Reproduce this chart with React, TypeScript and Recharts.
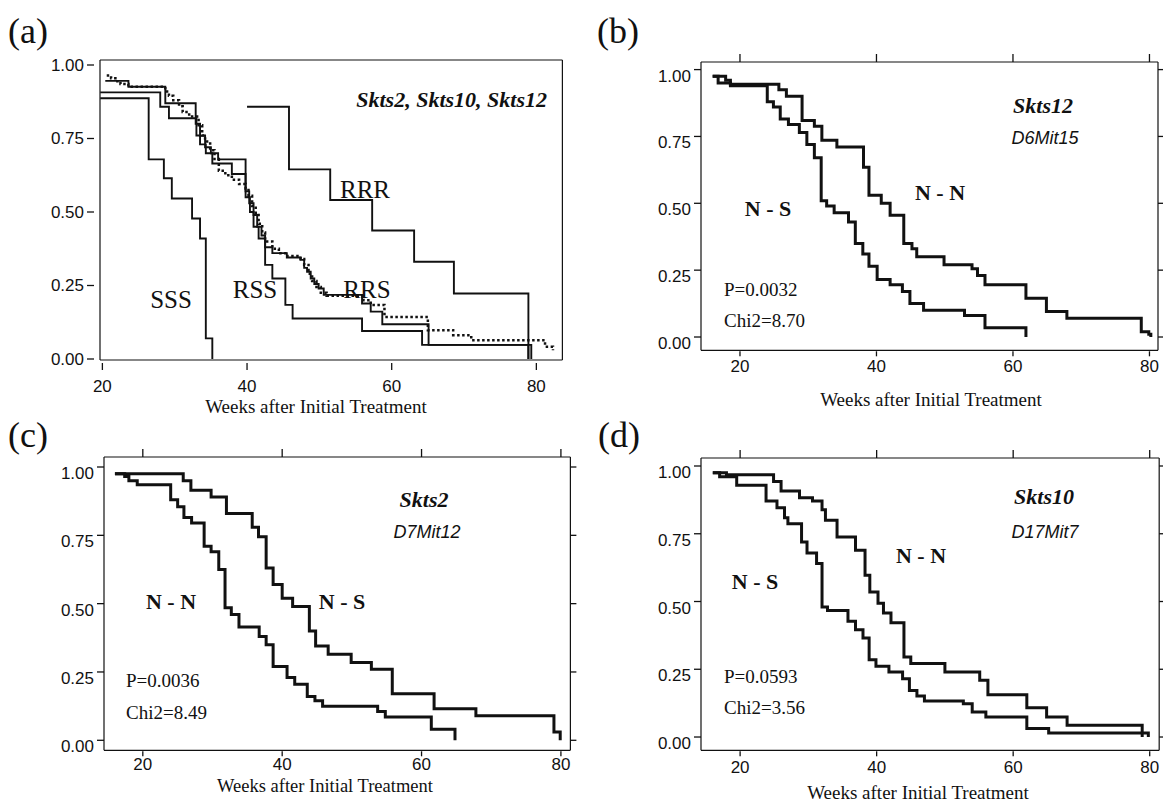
import React from "react";
import { LineChart, Line, XAxis, YAxis } from "recharts";

const weekTicks = [20, 40, 60, 80];
const survTicks = [0, 0.25, 0.5, 0.75, 1];

// (a) Skts2, Skts10, Skts12 genotype combinations
const aSSSWeeks = [19.7, 26.4, 28.5, 29.6, 32.4, 33.5, 34.3, 35.2];
const aSSSSurv = [0.887, 0.679, 0.615, 0.546, 0.478, 0.41, 0.07, 0];
const aRSSWeeks = [19.7, 28.0, 29.2, 33.0, 33.5, 34.3, 35.2, 37.9, 39.8, 40.4, 40.9, 41.6, 42.5, 43.5, 45.3, 46.3, 55.9, 64.2, 79.3];
const aRSSSurv = [0.907, 0.858, 0.819, 0.76, 0.73, 0.7, 0.665, 0.629, 0.55, 0.5, 0.45, 0.41, 0.32, 0.274, 0.184, 0.138, 0.095, 0.048, 0];
const aRRSWeeks = [20.4, 23.6, 28.7, 32.9, 33.5, 34.2, 35.0, 36.0, 39.8, 40.3, 40.9, 41.4, 42.0, 42.5, 43.5, 45.5, 47.4, 47.9, 48.3, 48.8, 49.3, 49.9, 50.6, 55.9, 57.1, 58.7, 65.1, 78.9];
const aRRSSurv = [0.946, 0.926, 0.87, 0.8, 0.76, 0.72, 0.7, 0.679, 0.57, 0.53, 0.49, 0.45, 0.42, 0.38, 0.36, 0.345, 0.337, 0.31, 0.297, 0.274, 0.255, 0.24, 0.218, 0.189, 0.161, 0.118, 0.048, 0];
const aDotWeeks = [20.6, 21.2, 21.8, 22.5, 23.6, 28.7, 29.2, 29.8, 30.6, 31.1, 32.0, 33.3, 33.8, 34.2, 34.9, 35.5, 36.1, 37.0, 37.9, 38.9, 39.8, 40.2, 40.7, 41.2, 41.6, 42.1, 42.5, 43.5, 44.4, 45.3, 47.4, 47.9, 48.5, 49.0, 49.6, 50.2, 51.0, 56.1, 57.1, 59.0, 65.0, 68.5, 71.0, 81.2, 82.3];
const aDotSurv = [0.964, 0.955, 0.945, 0.935, 0.926, 0.91, 0.895, 0.88, 0.86, 0.84, 0.825, 0.795, 0.76, 0.74, 0.71, 0.68, 0.64, 0.625, 0.61, 0.595, 0.58, 0.555, 0.52, 0.49, 0.46, 0.43, 0.4, 0.375, 0.36, 0.35, 0.34, 0.32, 0.29, 0.265, 0.245, 0.225, 0.215, 0.2, 0.184, 0.143, 0.098, 0.081, 0.064, 0.042, 0.03];
const aRRRWeeks = [40.0, 45.8, 51.5, 57.3, 63.1, 68.6, 78.9];
const aRRRSurv = [0.858, 0.645, 0.541, 0.437, 0.331, 0.223, 0];

// (b) Skts12, D6Mit15
const bNNWeeks = [16.0, 17.9, 18.6, 25.7, 26.8, 29.1, 30.9, 32.0, 34.2, 38.1, 38.9, 40.7, 42.0, 44.0, 45.2, 45.9, 49.9, 54.0, 54.8, 55.9, 61.9, 64.9, 67.9, 78.8, 79.9, 80.2];
const bNNSurv = [0.975, 0.96, 0.945, 0.925, 0.9, 0.81, 0.788, 0.736, 0.711, 0.635, 0.53, 0.5, 0.455, 0.35, 0.33, 0.3, 0.27, 0.255, 0.23, 0.195, 0.145, 0.095, 0.07, 0.02, 0.01, 0];
const bNSWeeks = [16.0, 16.8, 18.6, 24.0, 24.9, 25.9, 27.1, 28.7, 29.8, 30.9, 31.9, 32.7, 33.8, 35.9, 36.9, 38.0, 38.9, 40.1, 42.0, 43.8, 44.9, 46.9, 52.9, 55.9, 61.9];
const bNSSurv = [0.975, 0.95, 0.94, 0.88, 0.86, 0.815, 0.795, 0.765, 0.72, 0.67, 0.51, 0.49, 0.465, 0.43, 0.35, 0.31, 0.265, 0.215, 0.195, 0.17, 0.125, 0.1, 0.08, 0.035, 0];

// (c) Skts2, D7Mit12
const cNSWeeks = [16.0, 25.8, 26.9, 29.8, 32.0, 35.7, 36.6, 37.7, 38.7, 40.0, 41.5, 43.9, 44.8, 46.6, 49.9, 52.8, 55.8, 61.8, 67.8, 79.0, 79.9];
const cNSSurv = [0.975, 0.95, 0.915, 0.89, 0.83, 0.78, 0.745, 0.63, 0.57, 0.52, 0.49, 0.4, 0.345, 0.315, 0.285, 0.26, 0.17, 0.115, 0.09, 0.03, 0];
const cNNWeeks = [16.0, 17.4, 18.0, 19.2, 24.0, 25.0, 25.9, 27.0, 28.8, 29.8, 30.9, 31.8, 32.7, 33.8, 36.7, 37.7, 38.7, 40.7, 41.8, 43.6, 44.7, 45.8, 53.7, 54.8, 61.4, 64.8];
const cNNSurv = [0.975, 0.965, 0.95, 0.935, 0.88, 0.855, 0.815, 0.795, 0.71, 0.69, 0.625, 0.485, 0.46, 0.415, 0.38, 0.35, 0.27, 0.23, 0.205, 0.16, 0.145, 0.125, 0.105, 0.085, 0.04, 0];

// (d) Skts10, D17Mit7
const dNNWeeks = [16.0, 18.0, 24.9, 26.0, 28.7, 30.6, 32.0, 32.5, 34.2, 36.9, 38.3, 39.0, 40.2, 41.0, 42.1, 44.0, 45.0, 50.0, 55.1, 56.3, 62.0, 64.9, 67.9, 78.9];
const dNNSurv = [0.975, 0.968, 0.943, 0.908, 0.883, 0.871, 0.839, 0.8, 0.738, 0.689, 0.597, 0.535, 0.494, 0.458, 0.422, 0.295, 0.271, 0.24, 0.209, 0.156, 0.108, 0.074, 0.043, 0];
const dNSWeeks = [16.0, 17.0, 19.5, 23.8, 25.4, 26.5, 27.0, 29.0, 29.8, 31.2, 32.0, 32.8, 35.8, 36.9, 38.0, 38.9, 39.9, 41.8, 43.8, 44.8, 45.9, 47.0, 52.7, 54.0, 56.0, 62.0, 65.2, 79.8];
const dNSSurv = [0.975, 0.96, 0.929, 0.871, 0.846, 0.809, 0.787, 0.72, 0.679, 0.64, 0.48, 0.467, 0.427, 0.396, 0.365, 0.285, 0.261, 0.24, 0.215, 0.172, 0.151, 0.133, 0.123, 0.092, 0.074, 0.031, 0.015, 0];

const INK = "#111";
const SANS = "'Liberation Sans', Arial, sans-serif";
const SERIF = "'Liberation Serif', 'Times New Roman', serif";

type Pt = { x: number; y: number };
const steps = (t: number[], s: number[]): Pt[] => t.map((x, i) => ({ x, y: s[i] }));

type Curve = { key: string; data: Pt[]; dashed?: boolean };
type Box = { x0: number; x1: number; y0: number; y1: number };

type PanelProps = {
  box: Box;
  xDomain: [number, number];
  yDomain: [number, number];
  curves: Curve[];
  lineWidth: number;
  outerTicks: boolean; // ticks on top and right edge
  leftGap: number;
  leftDy: number;
  bottomGap: number;
  bottomLen: number;
  bottomDy: number;
};

function Panel(p: PanelProps) {
  const padL = 75, padR = 20, padT = 20, padB = 50;
  const wL = 70, hB = 45, hT = 12, wR = 12;
  const width = p.box.x1 - p.box.x0 + padL + padR;
  const height = p.box.y1 - p.box.y0 + padT + padB;
  const frame = { stroke: INK, strokeWidth: 1.2 };

  const leftTick = (t: any) => (
    <g>
      <line x1={t.x - p.leftGap - 7} x2={t.x - p.leftGap} y1={t.y} y2={t.y} stroke={INK} strokeWidth={1.3} />
      <text x={t.x - p.leftGap - 10} y={t.y + p.leftDy} textAnchor="end" fontFamily={SANS} fontSize={17} fill={INK}>
        {Number(t.payload.value).toFixed(2)}
      </text>
    </g>
  );
  const bottomTick = (t: any) => (
    <g>
      <line x1={t.x} x2={t.x} y1={t.y + p.bottomGap} y2={t.y + p.bottomGap + p.bottomLen} stroke={INK} strokeWidth={1.3} />
      <text x={t.x} y={t.y + p.bottomDy} textAnchor="middle" fontFamily={SANS} fontSize={17} fill={INK}>
        {t.payload.value}
      </text>
    </g>
  );
  const topTick = (t: any) => <line x1={t.x} x2={t.x} y1={t.y} y2={t.y - 8} stroke={INK} strokeWidth={1.3} />;
  const rightTick = (t: any) => <line x1={t.x} x2={t.x + 6} y1={t.y} y2={t.y} stroke={INK} strokeWidth={1.3} />;

  return (
    <div style={{ position: "absolute", left: p.box.x0 - padL, top: p.box.y0 - padT }}>
      <LineChart
        width={width}
        height={height}
        margin={{ top: padT - hT, right: padR - wR, bottom: padB - hB, left: padL - wL }}
      >
        <XAxis
          xAxisId="b"
          dataKey="x"
          type="number"
          domain={p.xDomain}
          allowDataOverflow
          ticks={weekTicks}
          interval={0}
          height={hB}
          tickSize={0}
          tickMargin={0}
          tickLine={false}
          axisLine={frame}
          tick={bottomTick}
        />
        <XAxis
          xAxisId="t"
          orientation="top"
          dataKey="x"
          type="number"
          domain={p.xDomain}
          allowDataOverflow
          ticks={weekTicks}
          interval={0}
          height={hT}
          tickSize={0}
          tickMargin={0}
          tickLine={false}
          axisLine={frame}
          tick={p.outerTicks ? topTick : false}
        />
        <YAxis
          yAxisId="l"
          type="number"
          domain={p.yDomain}
          allowDataOverflow
          ticks={survTicks}
          interval={0}
          width={wL}
          tickSize={0}
          tickMargin={0}
          tickLine={false}
          axisLine={frame}
          tick={leftTick}
        />
        <YAxis
          yAxisId="r"
          orientation="right"
          type="number"
          domain={p.yDomain}
          allowDataOverflow
          ticks={survTicks}
          interval={0}
          width={wR}
          tickSize={0}
          tickMargin={0}
          tickLine={false}
          axisLine={frame}
          tick={p.outerTicks ? rightTick : false}
        />
        {p.curves.map((c) => (
          <Line
            key={c.key}
            name={c.key}
            xAxisId="b"
            yAxisId="l"
            data={c.data}
            dataKey="y"
            type="stepAfter"
            stroke={INK}
            strokeWidth={c.dashed ? p.lineWidth + 0.6 : p.lineWidth}
            strokeDasharray={c.dashed ? "2.5 2.5" : undefined}
            dot={false}
            activeDot={false}
            isAnimationActive={false}
          />
        ))}
      </LineChart>
    </div>
  );
}

type Note = { text: string; x: number; y: number; size: number; anchor?: "start" | "middle" | "end"; bold?: boolean; italic?: boolean; sans?: boolean };

const notes: Note[] = [
  { text: "(a)", x: 28, y: 43, size: 36, anchor: "middle" },
  { text: "Skts2, Skts10, Skts12", x: 547, y: 107, size: 22, anchor: "end", bold: true, italic: true },
  { text: "RRR", x: 365, y: 198, size: 25, anchor: "middle" },
  { text: "RRS", x: 367, y: 298, size: 25, anchor: "middle" },
  { text: "SSS", x: 171, y: 308, size: 25, anchor: "middle" },
  { text: "RSS", x: 255, y: 298, size: 25, anchor: "middle" },
  { text: "Weeks after Initial Treatment", x: 316, y: 413, size: 19, anchor: "middle" },

  { text: "(b)", x: 618, y: 43, size: 36, anchor: "middle" },
  { text: "Skts12", x: 1043, y: 113, size: 22, anchor: "middle", bold: true, italic: true },
  { text: "D6Mit15", x: 1045, y: 144, size: 18, anchor: "middle", italic: true, sans: true },
  { text: "N - N", x: 940, y: 200, size: 22, anchor: "middle", bold: true },
  { text: "N - S", x: 768, y: 216, size: 22, anchor: "middle", bold: true },
  { text: "P=0.0032", x: 724, y: 296, size: 19 },
  { text: "Chi2=8.70", x: 724, y: 327, size: 19 },
  { text: "Weeks after Initial Treatment", x: 931, y: 406, size: 19, anchor: "middle" },

  { text: "(c)", x: 28, y: 447, size: 36, anchor: "middle" },
  { text: "Skts2", x: 424, y: 507, size: 22, anchor: "middle", bold: true, italic: true },
  { text: "D7Mit12", x: 427, y: 538, size: 18, anchor: "middle", italic: true, sans: true },
  { text: "N - N", x: 171, y: 609, size: 22, anchor: "middle", bold: true },
  { text: "N - S", x: 342, y: 609, size: 22, anchor: "middle", bold: true },
  { text: "P=0.0036", x: 126, y: 687, size: 19 },
  { text: "Chi2=8.49", x: 126, y: 719, size: 19 },
  { text: "Weeks after Initial Treatment", x: 325, y: 792, size: 18.5, anchor: "middle" },

  { text: "(d)", x: 619, y: 447, size: 36, anchor: "middle" },
  { text: "Skts10", x: 1044, y: 504, size: 22, anchor: "middle", bold: true, italic: true },
  { text: "D17Mit7", x: 1045, y: 538, size: 18, anchor: "middle", italic: true, sans: true },
  { text: "N - N", x: 921, y: 563, size: 22, anchor: "middle", bold: true },
  { text: "N - S", x: 755, y: 589, size: 22, anchor: "middle", bold: true },
  { text: "P=0.0593", x: 724, y: 683, size: 19 },
  { text: "Chi2=3.56", x: 724, y: 714, size: 19 },
  { text: "Weeks after Initial Treatment", x: 918, y: 799, size: 19, anchor: "middle" },
];

export default function App() {
  const aCurves: Curve[] = [
    { key: "SSS", data: steps(aSSSWeeks, aSSSSurv) },
    { key: "RSS", data: steps(aRSSWeeks, aRSSSurv) },
    { key: "RRS", data: steps(aRRSWeeks, aRRSSurv) },
    { key: "RRS dotted", data: steps(aDotWeeks, aDotSurv), dashed: true },
    { key: "RRR", data: steps(aRRRWeeks, aRRRSurv) },
  ];
  const bCurves: Curve[] = [
    { key: "N - N", data: steps(bNNWeeks, bNNSurv) },
    { key: "N - S", data: steps(bNSWeeks, bNSSurv) },
  ];
  const cCurves: Curve[] = [
    { key: "N - S", data: steps(cNSWeeks, cNSSurv) },
    { key: "N - N", data: steps(cNNWeeks, cNNSurv) },
  ];
  const dCurves: Curve[] = [
    { key: "N - N", data: steps(dNNWeeks, dNNSurv) },
    { key: "N - S", data: steps(dNSWeeks, dNSSurv) },
  ];

  return (
    <div style={{ position: "absolute", left: 0, top: 0, width: 1163, height: 802, background: "#fff", overflow: "hidden" }}>
      <Panel
        box={{ x0: 99.6, x1: 562, y0: 60, y1: 360 }}
        xDomain={[19.67, 83.6]}
        yDomain={[-0.0034, 1.017]}
        curves={aCurves}
        lineWidth={1.9}
        outerTicks={false}
        leftGap={6}
        leftDy={6}
        bottomGap={3}
        bottomLen={7}
        bottomDy={32}
      />
      <Panel
        box={{ x0: 701, x1: 1158, y0: 61.7, y1: 350 }}
        xDomain={[14.29, 81.25]}
        yDomain={[-0.0497, 1.0284]}
        curves={bCurves}
        lineWidth={3}
        outerTicks
        leftGap={0}
        leftDy={12}
        bottomGap={1}
        bottomLen={5}
        bottomDy={22}
      />
      <Panel
        box={{ x0: 103.6, x1: 570, y0: 456.7, y1: 750 }}
        xDomain={[14.43, 81.36]}
        yDomain={[-0.0366, 1.0366]}
        curves={cCurves}
        lineWidth={3}
        outerTicks
        leftGap={0}
        leftDy={12}
        bottomGap={1}
        bottomLen={5}
        bottomDy={20}
      />
      <Panel
        box={{ x0: 700.8, x1: 1159, y0: 457.7, y1: 750 }}
        xDomain={[14.27, 81.39]}
        yDomain={[-0.049, 1.0295]}
        curves={dCurves}
        lineWidth={3}
        outerTicks
        leftGap={0}
        leftDy={12}
        bottomGap={1}
        bottomLen={5}
        bottomDy={23}
      />
      <svg width={1163} height={802} style={{ position: "absolute", left: 0, top: 0, pointerEvents: "none" }}>
        {notes.map((n, i) => (
          <text
            key={i}
            x={n.x}
            y={n.y}
            textAnchor={n.anchor ?? "start"}
            fontFamily={n.sans ? SANS : SERIF}
            fontSize={n.size}
            fontWeight={n.bold ? "bold" : "normal"}
            fontStyle={n.italic ? "italic" : "normal"}
            fill={INK}
          >
            {n.text}
          </text>
        ))}
      </svg>
    </div>
  );
}
